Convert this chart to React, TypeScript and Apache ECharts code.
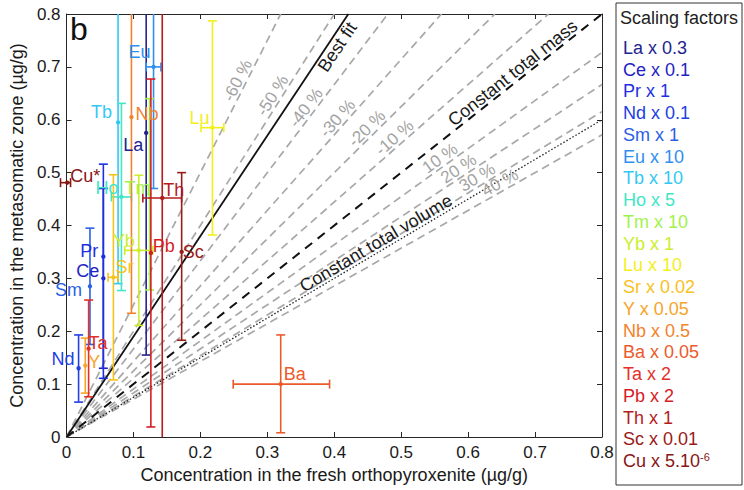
import React, { useEffect, useRef } from 'react';
import * as echarts from 'echarts';

const FONT = '"Liberation Sans", Arial, Helvetica, sans-serif';

// ---- element data ----
const elements = ['La', 'Ce', 'Pr', 'Nd', 'Sm', 'Eu', 'Tb', 'Ho', 'Tm', 'Yb', 'Lu', 'Sr', 'Y', 'Nb', 'Ba', 'Ta', 'Pb', 'Th', 'Sc', 'Cu'];
const pointLabels = ['La', 'Ce', 'Pr', 'Nd', 'Sm', 'Eu', 'Tb', 'Ho', 'Tm', 'Yb', 'Lu', 'Sr', 'Y', 'Nb', 'Ba', 'Ta', 'Pb', 'Th', 'Sc', 'Cu*'];
const scalingFactors = ['0.3', '0.1', '1', '0.1', '1', '10', '10', '5', '10', '1', '10', '0.02', '0.05', '0.5', '0.05', '2', '2', '1', '0.01', '5.10{sup|-6}'];
const colors = ['#23238f', '#1f22c4', '#1e2fe2', '#2140e4', '#2a60e6', '#2f8ff0', '#33c8f4', '#40e6c6', '#a2f24c', '#cbee2c', '#f2ef1c', '#f6c21e', '#f6a42a', '#f3822c', '#ec5a2c', '#e3302a', '#d61c24', '#b51c1c', '#9a1a1a', '#871616'];

// fresh orthopyroxenite (x) and metasomatic zone (y), scaled, with error ranges
const xFresh = [0.119, 0.055, 0.055, 0.018, 0.035, 0.130, 0.077, 0.082, 0.124, 0.108, 0.218, 0.070, 0.028, 0.097, 0.320, 0.033, 0.126, 0.143, 0.172, 0.001];
const xLow   = [0.119, 0.055, 0.055, 0.018, 0.035, 0.119, 0.077, 0.067, 0.124, 0.087, 0.201, 0.062, 0.028, 0.097, 0.249, 0.033, 0.126, 0.114, 0.172, -0.009];
const xHigh  = [0.119, 0.055, 0.055, 0.018, 0.035, 0.141, 0.077, 0.097, 0.124, 0.129, 0.235, 0.077, 0.028, 0.097, 0.393, 0.033, 0.126, 0.172, 0.172, 0.006];
const yMeta  = [0.575, 0.300, 0.341, 0.130, 0.285, 0.700, 0.595, 0.454, 0.459, 0.353, 0.585, 0.302, 0.135, 0.605, 0.100, 0.167, 0.348, 0.452, 0.350, 0.481];
const yLow   = [0.155, 0.130, 0.111, 0.066, 0.175, 0.470, 0.290, 0.277, 0.278, 0.211, 0.382, 0.108, 0.083, 0.234, 0.008, 0.076, 0.019, -0.050, 0.183, 0.481];
const yHigh  = [0.995, 0.470, 0.516, 0.193, 0.395, 0.930, 0.900, 0.631, 0.640, 0.495, 0.787, 0.496, 0.187, 0.975, 0.193, 0.259, 0.677, 0.950, 0.500, 0.481];
// label offsets from point (px): left edge dx, vertical centre dy
const labelDx = [-23, -27, -23, -27, -35, -25, -27, -26, -25, -26, -23, 2, 3, 4, 3, 0, 2, 1, 1, 3];
const labelDy = [12, -7, -6, -9, 4, -15, -10, -9, -6, -9, -10, -10, -4, -3, -10, -6, -7, -8, 0, -7];

// ---- reference lines ----
const massChange = [-60, -50, -40, -30, -20, -10, 10, 20, 30, 40];
const massLabelY = [0.667, 0.637, 0.613, 0.592, 0.572, 0.554, 0.514, 0.494, 0.477, 0.467];
const bestFitSlope = 1.9;
const constantMassSlope = 1;
const constantVolumeSlope = 0.75;
const bestFitLabelY = 0.747;
const massLabelYLine = 0.675;
const volumeLabelY = 0.352;

const axisMax = 0.8;
const axisStep = 0.1;

function lineEnd(slope: number) {
  const x = Math.min(axisMax, axisMax / slope);
  return [[0, 0], [x, slope * x]];
}

export default function App() {
  const ref = useRef<HTMLDivElement>(null);
  useEffect(() => {
    const chart = echarts.init(ref.current!, null, { renderer: 'svg' });

    const lineDefs: any[] = [
      ...massChange.map((m, i) => ({ slope: 1 / (1 + m / 100), y: massLabelY[i], text: `${m} %`, color: '#a3a3a3', valign: 'bottom', size: 17 })),
      { slope: bestFitSlope, y: bestFitLabelY, text: 'Best fit', color: '#1a1a1a', valign: 'top', size: 18 },
      { slope: constantMassSlope, y: massLabelYLine, text: 'Constant total mass', color: '#1a1a1a', valign: 'bottom', size: 18 },
      { slope: constantVolumeSlope, y: volumeLabelY, text: 'Constant total volume', color: '#1a1a1a', valign: 'bottom', size: 18 },
    ];

    const axisCommon = {
      type: 'value', min: 0, max: axisMax, interval: axisStep,
      splitLine: { show: false },
      axisLine: { show: true, onZero: false, lineStyle: { color: '#262626', width: 1 } },
      axisTick: { show: true, inside: true, length: 5, lineStyle: { color: '#262626', width: 1 } },
    };

    const grayLines = massChange.map((m) => ({
      type: 'line', data: lineEnd(1 / (1 + m / 100)), symbol: 'none', silent: true, z: 1,
      lineStyle: { color: '#a8a8a8', width: 1.7, type: [8, 5] },
    }));

    const option: any = {
      animation: false,
      backgroundColor: '#ffffff',
      grid: { left: 63, top: 14, width: 539, height: 423, containLabel: false },
      xAxis: [
        {
          ...axisCommon, position: 'bottom',
          name: 'Concentration in the fresh orthopyroxenite (µg/g)', nameLocation: 'middle', nameGap: 22,
          nameTextStyle: { fontSize: 18, color: '#1a1a1a', fontFamily: FONT },
          axisLabel: { fontSize: 17, color: '#1a1a1a', margin: 7, fontFamily: FONT },
        },
        { ...axisCommon, position: 'top', axisLabel: { show: false } },
      ],
      yAxis: [
        {
          ...axisCommon, position: 'left',
          name: 'Concentration in the metasomatic zone (µg/g)', nameLocation: 'middle', nameGap: 36, nameRotate: 90,
          nameTextStyle: { fontSize: 18, color: '#1a1a1a', fontFamily: FONT },
          axisLabel: { fontSize: 17, color: '#1a1a1a', margin: 6, fontFamily: FONT },
        },
        { ...axisCommon, position: 'right', axisLabel: { show: false } },
      ],
      series: [
        ...grayLines,
        {
          type: 'line', data: lineEnd(bestFitSlope), symbol: 'none', silent: true, z: 2,
          lineStyle: { color: '#111', width: 1.8, type: 'solid' },
        },
        {
          type: 'line', data: lineEnd(constantMassSlope), symbol: 'none', silent: true, z: 2,
          lineStyle: { color: '#111', width: 2, type: [9, 7] },
        },
        {
          type: 'line', data: lineEnd(constantVolumeSlope), symbol: 'none', silent: true, z: 2,
          lineStyle: { color: '#222', width: 1.3, type: [1.5, 2] },
        },
        {
          type: 'custom', clip: false, z: 3, silent: true,
          data: lineDefs.map((d, i) => [d.y / d.slope, d.y, i]),
          encode: { x: 0, y: 1 },
          renderItem: (params: any, api: any) => {
            const d = lineDefs[api.value(2)];
            const p = api.coord([api.value(0), api.value(1)]);
            const p0 = api.coord([0, 0]);
            const p1 = api.coord([0.4, 0.4 * d.slope]);
            const ang = Math.atan2(p0[1] - p1[1], p1[0] - p0[0]);
            return {
              type: 'text', x: p[0], y: p[1], rotation: ang,
              style: {
                text: d.text, fill: d.color, font: `${d.size}px ${FONT}`,
                textAlign: 'center', textVerticalAlign: d.valign, align: 'center', verticalAlign: d.valign,
              },
            };
          },
        },
        {
          type: 'custom', clip: false, z: 4, silent: true,
          data: elements.map((_, i) => [xFresh[i], yMeta[i], xLow[i], xHigh[i], yLow[i], yHigh[i], i]),
          encode: { x: 0, y: 1 },
          renderItem: (params: any, api: any) => {
            const i = api.value(6);
            const x = api.value(0), y = api.value(1);
            const xl = api.value(2), xh = api.value(3), yl = api.value(4), yh = api.value(5);
            const color = colors[i];
            const st = { stroke: color, lineWidth: 1.6, fill: 'none' };
            const cap = 4.5;
            const children: any[] = [];
            const seg = (a: number[], b: number[]) => children.push({ type: 'line', shape: { x1: a[0], y1: a[1], x2: b[0], y2: b[1] }, style: st });
            if (yh > yl) {
              const top = api.coord([x, Math.min(yh, axisMax)]);
              const bot = api.coord([x, Math.max(yl, 0)]);
              seg(top, bot);
              if (yh <= axisMax) seg([top[0] - cap, top[1]], [top[0] + cap, top[1]]);
              if (yl >= 0) seg([bot[0] - cap, bot[1]], [bot[0] + cap, bot[1]]);
            }
            if (xh > xl) {
              const l = api.coord([xl, y]);
              const r = api.coord([xh, y]);
              seg(l, r);
              seg([l[0], l[1] - cap], [l[0], l[1] + cap]);
              seg([r[0], r[1] - cap], [r[0], r[1] + cap]);
            }
            const c = api.coord([x, y]);
            children.push({ type: 'circle', shape: { cx: c[0], cy: c[1], r: 2.2 }, style: { fill: color } });
            return { type: 'group', children };
          },
        },
        {
          type: 'custom', clip: false, z: 5, silent: true,
          data: elements.map((_, i) => [xFresh[i], yMeta[i], i]),
          encode: { x: 0, y: 1 },
          renderItem: (params: any, api: any) => {
            const i = api.value(2);
            const c = api.coord([api.value(0), api.value(1)]);
            return {
              type: 'text', x: c[0] + labelDx[i], y: c[1] + labelDy[i],
              style: {
                text: pointLabels[i], fill: colors[i], font: `18px ${FONT}`,
                textAlign: 'left', textVerticalAlign: 'middle', align: 'left', verticalAlign: 'middle',
              },
            };
          },
        },
      ],
      graphic: [
        {
          type: 'text', left: 70, top: 13, z: 10,
          style: { text: 'b', fill: '#111', font: `32px ${FONT}` },
        },
        {
          type: 'rect', z: 10,
          shape: { x: 616, y: 3, width: 126, height: 482 },
          style: { fill: '#ffffff', stroke: '#333', lineWidth: 1 },
        },
        {
          type: 'text', z: 11, x: 620, y: 18,
          style: { text: 'Scaling factors', fill: '#222', font: `18px ${FONT}`, textVerticalAlign: 'middle', verticalAlign: 'middle' },
        },
        ...elements.map((e, i) => ({
          type: 'text', z: 11, x: 623, y: 48 + i * 21.74,
          style: {
            text: `${e} x ${scalingFactors[i]}`, fill: colors[i], font: `18px ${FONT}`,
            textVerticalAlign: 'middle', verticalAlign: 'middle',
            rich: { sup: { fontSize: 11, fill: colors[i], verticalAlign: 'top', fontFamily: FONT, padding: [0, 0, 8, 0] } },
          },
        })),
      ],
    };

    chart.setOption(option);
    return () => chart.dispose();
  }, []);

  return <div ref={ref} style={{ position: 'fixed', left: 0, top: 0, width: 744, height: 490, background: '#fff' }} />;
}
